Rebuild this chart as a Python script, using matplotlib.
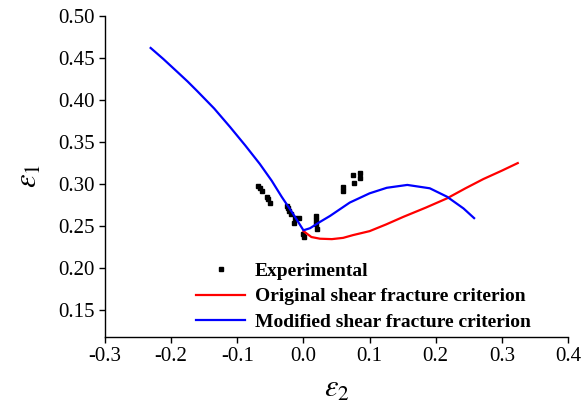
import matplotlib.pyplot as plt
import numpy as np

plt.rcParams['font.family'] = 'Liberation Serif'
plt.rcParams['mathtext.fontset'] = 'stix'

# experimental points (eps2, eps1)
exp_x = [-0.068, -0.066, -0.063, -0.055, -0.053, -0.050, -0.025, -0.024, -0.022,
         -0.019, -0.013, -0.007, -0.014, 0.000, 0.001, 0.019, 0.019, 0.019, 0.020,
         0.060, 0.060, 0.075, 0.077, 0.086, 0.086]
exp_y = [0.298, 0.295, 0.292, 0.285, 0.282, 0.278, 0.274, 0.271, 0.268,
         0.264, 0.260, 0.260, 0.254, 0.241, 0.237, 0.262, 0.257, 0.252, 0.247,
         0.297, 0.292, 0.311, 0.301, 0.313, 0.307]

# original shear fracture criterion
orig_x = [0.0, 0.012, 0.025, 0.043, 0.06, 0.075, 0.1, 0.125, 0.151, 0.185,
          0.217, 0.245, 0.272, 0.3, 0.324]
orig_y = [0.244, 0.237, 0.235, 0.2345, 0.236, 0.2393, 0.244, 0.252, 0.261, 0.272,
          0.283, 0.295, 0.306, 0.316, 0.325]

# modified shear fracture criterion
mod_x = [-0.231, -0.212, -0.19, -0.175, -0.161, -0.135, -0.111, -0.088, -0.066, -0.048,
         -0.033, -0.016, 0.0, 0.01, 0.025, 0.04, 0.07, 0.10, 0.126, 0.157,
         0.191, 0.217, 0.242, 0.258]
mod_y = [0.462, 0.449, 0.433, 0.422, 0.411, 0.390, 0.368, 0.346, 0.324, 0.304,
         0.285, 0.265, 0.245, 0.2475, 0.255, 0.262, 0.278, 0.289, 0.2956, 0.299,
         0.295, 0.285, 0.271, 0.2595]

fig = plt.figure(figsize=(5.85, 4.11), dpi=100)
ax = fig.add_axes([0.1795, 0.180, 0.7915, 0.781])

ax.plot(exp_x, exp_y, 's', color='black', markersize=3, label='Experimental')
ax.plot(orig_x, orig_y, color='#ff0000', linewidth=1.6, label='Original shear fracture criterion')
ax.plot(mod_x, mod_y, color='#0000ff', linewidth=1.6, label='Modified shear fracture criterion')

ax.set_xlim(-0.3, 0.4)
ax.set_ylim(0.118, 0.50)
ax.set_xticks(np.arange(-0.3, 0.41, 0.1))
ax.set_xticklabels(['-0.3', '-0.2', '-0.1', '0.0', '0.1', '0.2', '0.3', '0.4'])
ax.set_yticks(np.arange(0.15, 0.501, 0.05))
ax.set_yticklabels(['0.15', '0.20', '0.25', '0.30', '0.35', '0.40', '0.45', '0.50'])
ax.tick_params(direction='out', length=4.5, width=1, labelsize=15, pad=3)

for s in ['top', 'right']:
    ax.spines[s].set_visible(False)
for s in ['left', 'bottom']:
    ax.spines[s].set_linewidth(1.0)

ax.set_xlabel(r'$\varepsilon_2$', fontsize=22, labelpad=6)
ax.set_ylabel(r'$\varepsilon_1$', fontsize=22, labelpad=10)

ax.legend(loc='lower left', bbox_to_anchor=(0.172, -0.017), frameon=False,
          prop={'family': 'Liberation Serif', 'weight': 'bold', 'size': 14},
          handlelength=2.5, handletextpad=0.5, labelspacing=0.4, borderaxespad=0.2)

fig.savefig('out.png', dpi=100)
